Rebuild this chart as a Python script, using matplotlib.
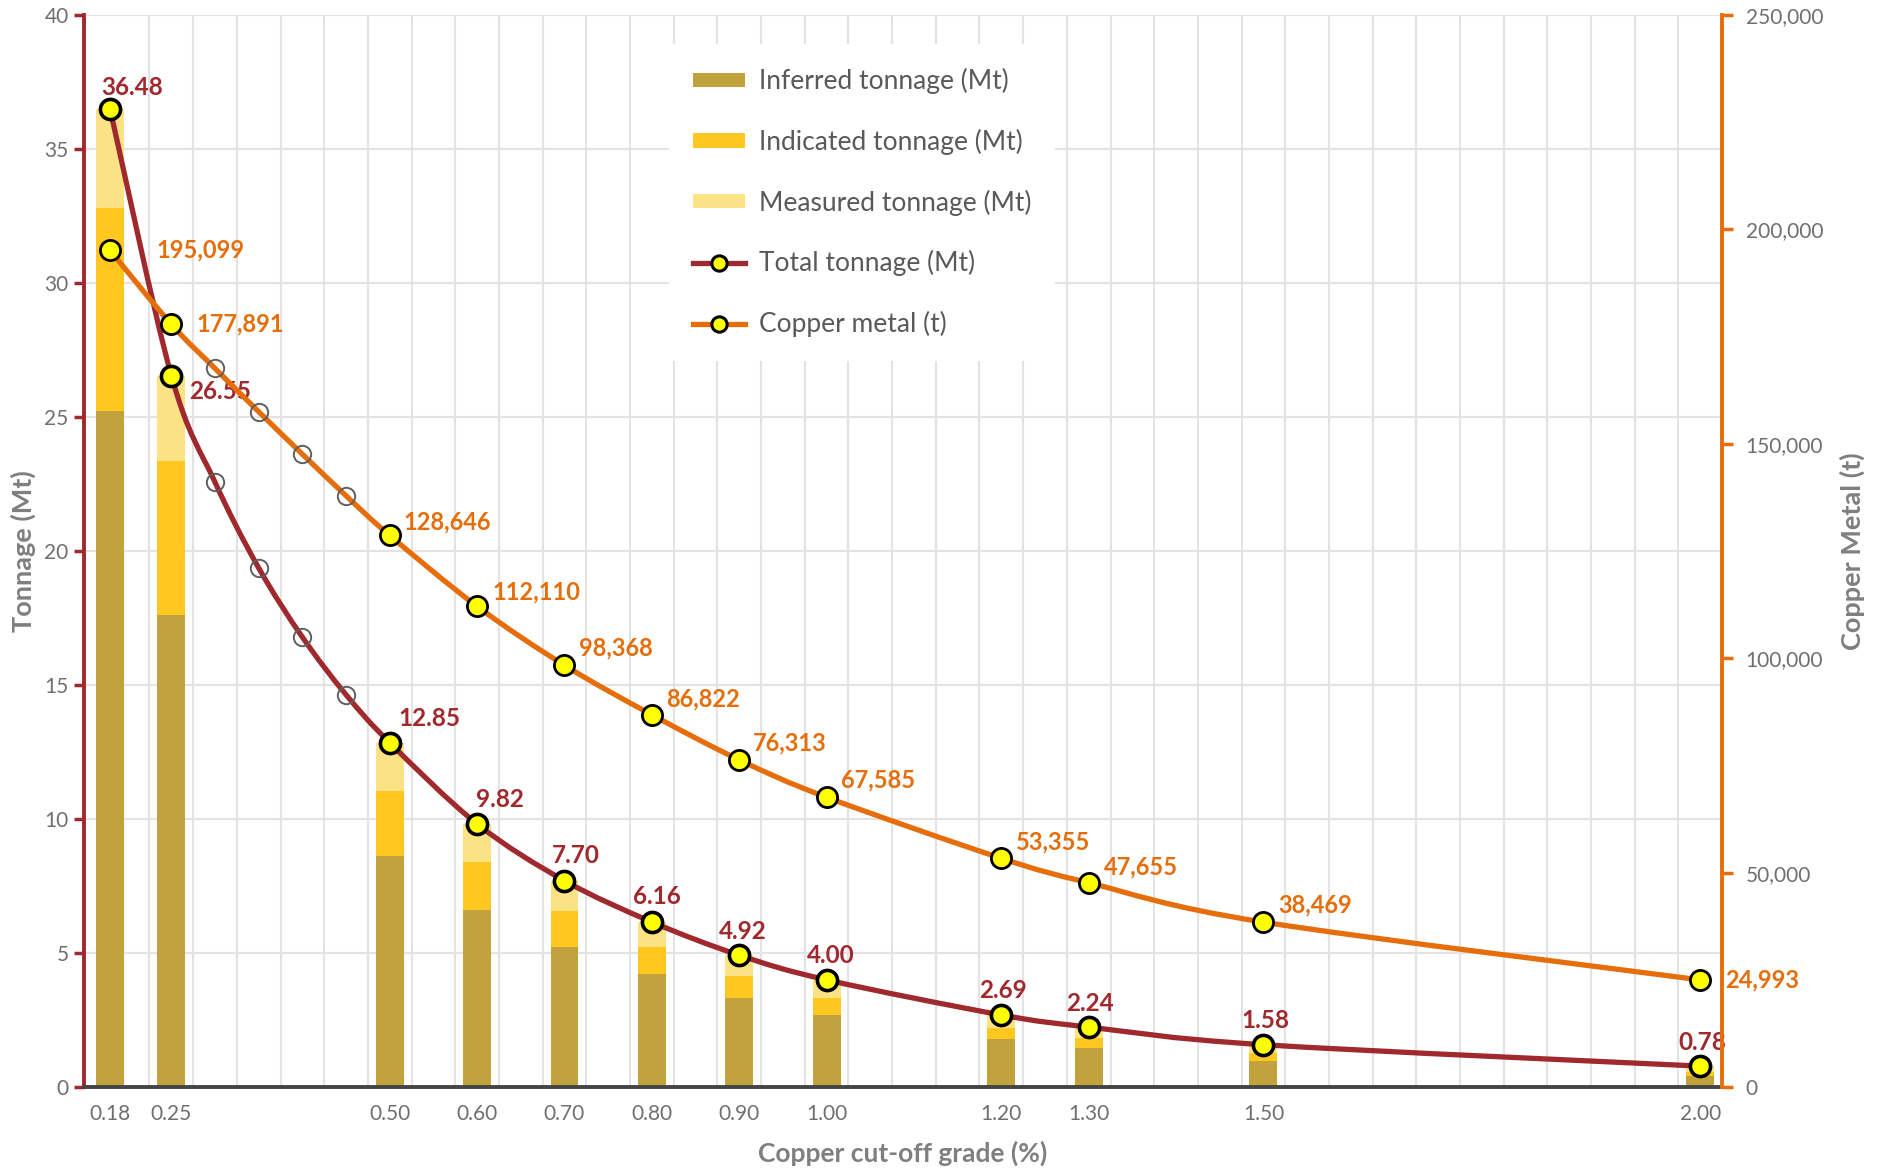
import numpy as np
import matplotlib
matplotlib.use("Agg")
import matplotlib.pyplot as plt
from matplotlib.path import Path
from matplotlib.patches import PathPatch, Patch
from matplotlib.lines import Line2D
from matplotlib.ticker import FuncFormatter

plt.rcParams['font.family'] = ['Lato', 'DejaVu Sans']

# data
grades = [0.18, 0.25, 0.50, 0.60, 0.70, 0.80, 0.90, 1.00, 1.20, 1.30, 1.50, 2.00]
inferred = [25.24, 17.63, 8.61, 6.62, 5.21, 4.20, 3.34, 2.70, 1.78, 1.44, 0.97, 0.41]
indicated = [7.55, 5.72, 2.42, 1.78, 1.36, 1.03, 0.81, 0.64, 0.43, 0.38, 0.29, 0.16]
measured = [3.69, 3.20, 1.82, 1.42, 1.13, 0.93, 0.77, 0.66, 0.48, 0.42, 0.32, 0.21]
total = [36.48, 26.55, 12.85, 9.82, 7.70, 6.16, 4.92, 4.00, 2.69, 2.24, 1.58, 0.78]
copper = [195099, 177891, 128646, 112110, 98368, 86822, 76313, 67585, 53355, 47655, 38469, 24993]

# unlabelled points between 0.25 and 0.50 (hollow markers)
mid_grades = [0.30, 0.35, 0.40, 0.45]
mid_total = [22.57, 19.37, 16.79, 14.64]
mid_copper = [167600, 157500, 147600, 137900]

# label offsets in pixels (layout only)
ton_off = [(22, 22), (49, -16), (40, 24), (23, 24), (11, 25), (5, 25),
           (4, 24), (4, 24), (2, 24), (1, 24), (2, 24), (2, 24)]
cu_off = [(46, 1), (25, 0), (14, 14), (15, 14), (15, 17), (14, 16),
          (14, 17), (14, 17), (15, 16), (15, 16), (15, 17), (25, 0)]

C_INF = '#C1A23D'
C_IND = '#FFC71F'
C_MEA = '#FBE285'
C_TON = '#A0292E'
C_CU = '#E56E0B'
C_TXT = '#6F6F6F'
C_GRID = '#E3E3E3'


def smooth_path(xs, ys):
    # Catmull-Rom style bezier through the points (like Excel's smoothed line)
    p = np.column_stack([xs, ys]).astype(float)
    n = len(p)
    verts = [p[0]]
    codes = [Path.MOVETO]
    for i in range(n - 1):
        p0 = p[i - 1] if i > 0 else p[i]
        p3 = p[i + 2] if i + 2 < n else p[i + 1]
        c1 = p[i] + (p[i + 1] - p0) / 6.0
        c2 = p[i + 1] - (p3 - p[i]) / 6.0
        verts += [c1, c2, p[i + 1]]
        codes += [Path.CURVE4] * 3
    return Path(verts, codes)


fig = plt.figure(figsize=(18.78, 11.69), dpi=100)
ax = fig.add_axes([0.0447, 0.0701, 0.8723, 0.9170])
ax2 = ax.twinx()

# stacked bars
bw = 0.032
ax.bar(grades, inferred, width=bw, color=C_INF, zorder=2)
ax.bar(grades, indicated, width=bw, bottom=inferred, color=C_IND, zorder=2)
base2 = np.array(inferred) + np.array(indicated)
ax.bar(grades, measured, width=bw, bottom=base2, color=C_MEA, zorder=2)

# combine labelled and hollow points for the smooth lines
all_x = grades[:2] + mid_grades + grades[2:]
all_ton = total[:2] + mid_total + total[2:]
all_cu = copper[:2] + mid_copper + copper[2:]

ax.add_patch(PathPatch(smooth_path(all_x, all_ton), fill=False, edgecolor=C_TON,
                       lw=3.8, zorder=3, capstyle='round'))
ax.plot(mid_grades, mid_total, 'o', ms=12.5, mfc='none', mec='#5F5F5F', mew=1.4, zorder=4)
ax.plot(grades, total, 'o', ms=14.5, mfc='#FFFF00', mec='black', mew=2.6, zorder=5)

ax2.add_patch(PathPatch(smooth_path(all_x, all_cu), fill=False, edgecolor=C_CU,
                        lw=3.8, zorder=3, capstyle='round'))
ax2.plot(mid_grades, mid_copper, 'o', ms=12.5, mfc='none', mec='#5F5F5F', mew=1.4, zorder=4)
ax2.plot(grades, copper, 'o', ms=14.5, mfc='#FFFF00', mec='black', mew=2.0, zorder=5)

for g, v, (dx, dy) in zip(grades, total, ton_off):
    ax.annotate(f"{v:.2f}", (g, v), xytext=(dx, dy), textcoords='offset pixels',
                ha='center', va='center', color=C_TON, fontsize=17.5,
                fontweight='bold', zorder=6)
for g, v, (dx, dy) in zip(grades, copper, cu_off):
    ax2.annotate(f"{v:,}", (g, v), xytext=(dx, dy), textcoords='offset pixels',
                 ha='left', va='center', color=C_CU, fontsize=17,
                 fontweight='bold', zorder=6)

# axes
ax.set_xlim(0.15, 2.025)
ax.set_ylim(0, 40)
ax2.set_ylim(0, 250000)
ax.set_xticks(grades)
ax.set_xticklabels([f"{g:.2f}" for g in grades])
ax.set_xticks(np.arange(0.225, 2.0, 0.05), minor=True)
ax.set_yticks(np.arange(0, 41, 5))
ax2.set_yticks(np.arange(0, 250001, 50000))
ax2.yaxis.set_major_formatter(FuncFormatter(lambda v, p: f"{int(v):,}"))

ax.grid(True, which='minor', axis='x', color=C_GRID, lw=1.5, zorder=0)
ax.grid(True, which='major', axis='y', color=C_GRID, lw=1.5, zorder=0)
ax.set_axisbelow(True)

ax.tick_params(axis='x', which='both', length=0, pad=12, labelsize=15, labelcolor=C_TXT)
ax.tick_params(axis='y', length=7, width=2.5, color=C_TON, pad=4,
               labelsize=15, labelcolor=C_TXT)
ax2.tick_params(axis='y', length=8, width=2.5, color=C_CU, pad=9,
                labelsize=15, labelcolor=C_TXT)

for s in ['top', 'right']:
    ax.spines[s].set_visible(False)
for s in ['top', 'left', 'bottom']:
    ax2.spines[s].set_visible(False)
ax.spines['left'].set_color(C_TON)
ax.spines['left'].set_linewidth(2.8)
ax.spines['bottom'].set_color('#444444')
ax.spines['bottom'].set_linewidth(2.8)
ax2.spines['right'].set_color(C_CU)
ax2.spines['right'].set_linewidth(2.8)

ax.set_ylabel('Tonnage (Mt)', fontsize=19.5, fontweight='bold', color='#7F7F7F', labelpad=6)
ax2.set_ylabel('Copper Metal (t)', fontsize=19.5, fontweight='bold', color='#7F7F7F', labelpad=12)
ax.set_xlabel('Copper cut-off grade (%)', fontsize=19, fontweight='bold', color='#7F7F7F', labelpad=12)

handles = [
    Patch(facecolor=C_INF, label='Inferred tonnage (Mt)'),
    Patch(facecolor=C_IND, label='Indicated tonnage (Mt)'),
    Patch(facecolor=C_MEA, label='Measured tonnage (Mt)'),
    Line2D([], [], color=C_TON, lw=3.8, marker='o', ms=11, mfc='#FFFF00', mec='black',
           mew=2.2, label='Total tonnage (Mt)'),
    Line2D([], [], color=C_CU, lw=3.8, marker='o', ms=11, mfc='#FFFF00', mec='black',
           mew=2.2, label='Copper metal (t)'),
]
leg = ax2.legend(handles=handles, loc='upper left', bbox_to_anchor=(0.349, 0.985),
                 frameon=True, facecolor='white', edgecolor='white', framealpha=1,
                 fontsize=19, labelcolor='#595959', handlelength=2.0, handleheight=0.45,
                 labelspacing=1.31, borderpad=0.9, handletextpad=0.5)
leg.get_frame().set_linewidth(0)

fig.savefig('out.png', dpi=100)
